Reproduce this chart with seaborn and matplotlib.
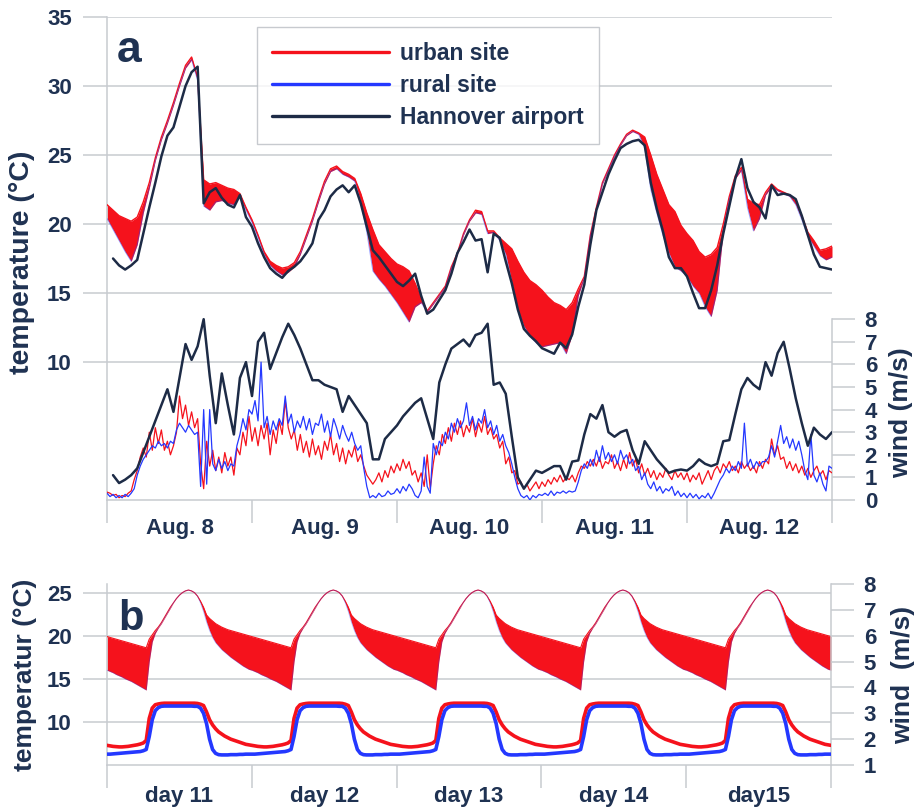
import numpy as np
import matplotlib
matplotlib.use("Agg")
import matplotlib.pyplot as plt
from matplotlib.lines import Line2D
import seaborn as sns

sns.set_theme(style="white")
plt.rcParams["font.family"] = ["Liberation Sans", "DejaVu Sans"]
plt.rcParams["font.weight"] = "bold"

# ---------------- panel a: observations, Aug. 8 - Aug. 12 (hourly / half-hourly) ----------------
day_labels_a = ["Aug. 8", "Aug. 9", "Aug. 10", "Aug. 11", "Aug. 12"]

# air temperature (degC), hourly from 00 h Aug. 8
urban_temp = [21.4, 21.0, 20.6, 20.4, 20.2, 20.5, 21.6, 23.0, 24.8, 26.3, 27.5, 28.8, 30.2, 31.5, 32.1, 30.6,
              23.2, 22.9, 23.0, 22.8, 22.6, 22.5, 22.2, 21.2, 20.3, 19.2, 18.0, 17.3, 17.0, 16.8, 16.9, 17.2,
              18.0, 19.2, 20.4, 21.8, 23.1, 24.0, 24.2, 23.8, 23.6, 23.3, 22.2, 20.8, 19.6, 18.5, 18.0, 17.5,
              17.1, 16.9, 16.6, 15.7, 14.6, 13.7, 14.3, 14.9, 15.5, 16.9, 17.9, 19.3, 20.3, 21.0, 20.9, 19.5,
              19.5, 19.0, 18.6, 18.2, 17.3, 16.5, 15.9, 15.6, 15.2, 14.7, 14.3, 14.1, 13.8, 14.3, 15.3, 16.2,
              19.2, 21.2, 23.0, 24.0, 25.0, 25.8, 26.5, 26.8, 26.6, 26.3, 25.0, 23.6, 22.5, 21.4, 20.9, 19.9,
              19.3, 18.8, 18.0, 17.6, 17.8, 18.3, 20.0, 22.0, 23.5, 24.1, 21.8, 21.5, 21.4, 22.3, 22.9, 22.5,
              22.3, 22.1, 21.6, 20.6, 19.4, 18.8, 18.1, 18.2, 18.4]
rural_temp = [20.4, 19.6, 18.8, 18.0, 17.3, 18.5, 20.8, 22.6, 24.6, 26.1, 27.3, 28.6, 30.0, 31.3, 31.9, 30.4,
              21.3, 21.0, 21.6, 21.7, 21.5, 21.4, 22.0, 21.0, 20.1, 19.0, 17.8, 17.0, 16.6, 16.3, 16.5, 16.9,
              17.8, 19.0, 20.2, 21.6, 22.9, 23.8, 24.0, 23.6, 23.4, 23.1, 21.6, 19.4, 16.6, 16.0, 15.5, 14.9,
              14.3, 13.6, 12.9, 14.0, 14.3, 13.6, 14.2, 14.8, 15.4, 16.8, 17.8, 19.2, 20.2, 20.8, 20.7, 19.3,
              19.4, 18.8, 17.8, 15.8, 13.8, 12.6, 11.9, 11.4, 11.1, 11.2, 11.3, 11.4, 10.6, 12.0, 14.8, 16.1,
              19.1, 21.1, 22.9, 23.9, 24.9, 25.7, 26.4, 26.7, 26.5, 25.5, 22.5, 20.8, 19.2, 17.9, 16.9, 16.6,
              16.2, 15.5, 15.0, 14.0, 13.3, 15.2, 19.5, 21.8, 23.3, 23.9, 21.2, 19.5, 20.4, 22.1, 22.7, 22.4,
              22.2, 22.0, 21.4, 20.3, 19.1, 18.4, 17.7, 17.4, 17.6]
# Hannover airport, hourly synop from 01 h Aug. 8
airport_temp = [17.5, 17.0, 16.7, 17.0, 17.4, 19.3, 21.2, 23.0, 24.9, 26.4, 27.0, 28.5, 30.0, 31.0, 31.4,
                21.5, 22.3, 22.6, 21.9, 21.4, 21.2, 22.1, 20.5, 19.8, 18.6, 17.6, 16.8, 16.4, 16.1, 16.6,
                16.9, 17.3, 17.9, 18.6, 20.3, 21.0, 22.0, 22.5, 22.8, 22.3, 22.8, 21.5, 19.8, 18.1, 17.6,
                17.0, 16.4, 15.8, 15.5, 15.9, 16.4, 14.8, 13.5, 13.8, 14.5, 15.2, 16.4, 17.9, 18.7, 19.6,
                18.8, 18.9, 16.5, 19.3, 19.0, 17.3, 15.7, 13.8, 12.4, 11.9, 11.5, 11.0, 10.8, 10.6, 11.4,
                11.0, 12.0, 14.0, 15.6, 18.5, 21.0, 22.3, 23.6, 24.6, 25.5, 25.8, 26.0, 26.1, 25.7, 23.0,
                21.1, 19.5, 17.6, 16.8, 16.8, 16.2, 15.0, 13.9, 13.9, 15.2, 17.0, 19.3, 21.3, 23.3, 24.7,
                22.6, 21.6, 21.2, 20.4, 22.8, 22.1, 22.2, 22.1, 21.8, 20.6, 19.2, 17.8, 16.9, 16.8, 16.7]

# wind speed (m/s), half-hourly, one list per day
urban_wind_days = [
    [0.35, 0.3, 0.2, 0.25, 0.1, 0.2, 0.15, 0.3, 0.4, 0.9, 1.3, 1.9, 2.3, 1.9, 3.0, 2.2, 3.2, 2.5, 3.1, 2.2,
     2.6, 2.0, 2.4, 3.0, 4.6, 3.6, 4.2, 3.3, 3.9, 3.2, 3.6, 1.6, 0.5, 2.6, 1.5, 2.2, 1.3, 1.9, 1.2, 2.1,
     1.5, 1.9, 1.1, 2.3, 2.0, 3.0, 2.4, 3.7],
    [2.6, 3.2, 2.4, 3.3, 2.7, 3.4, 2.0, 3.1, 2.5, 3.5, 2.9, 4.4, 3.2, 2.7, 3.1, 2.2, 2.9, 2.1, 2.6, 1.9,
     2.7, 2.0, 2.4, 1.8, 2.6, 2.2, 2.9, 2.0, 2.5, 1.7, 2.3, 1.6, 2.2, 1.9, 2.4, 1.7, 2.0, 1.5, 1.1, 0.9,
     0.7, 0.9, 1.2, 0.8, 1.3, 1.0, 1.5, 1.2],
    [1.6, 1.3, 1.8, 1.4, 1.7, 1.1, 1.3, 0.8, 1.2, 0.6, 2.0, 0.5, 1.6, 2.4, 2.0, 2.9, 2.5, 3.2, 2.6, 3.4,
     2.9, 3.5, 2.8, 3.3, 3.0, 3.6, 2.8, 3.4, 3.0, 3.7, 2.9, 3.2, 2.7, 2.9, 2.3, 2.6, 1.6, 1.9, 1.2, 1.3,
     0.7, 0.8, 0.5, 0.7, 0.4, 0.6, 0.8, 0.5],
    [0.8, 0.6, 0.9, 0.7, 1.0, 0.8, 1.1, 0.8, 1.0, 0.9, 1.1, 0.8, 1.2, 1.5, 1.4, 1.7, 1.5, 1.8, 1.5, 1.9,
     1.4, 1.7, 1.6, 2.0, 1.4, 1.7, 1.3, 1.8, 1.4, 2.1, 1.5, 1.8, 1.2, 1.6, 1.1, 1.4, 1.0, 1.3, 0.9, 1.2,
     1.0, 1.4, 1.1, 0.9, 1.3, 1.0, 1.2, 0.9],
    [1.2, 0.8, 1.1, 0.9, 1.2, 0.7, 1.0, 1.3, 0.9, 1.3, 1.5, 1.2, 1.6, 1.4, 1.7, 1.3, 1.5, 1.2, 1.7, 1.4,
     1.6, 1.3, 1.5, 1.2, 1.7, 1.4, 1.8, 1.6, 2.7, 2.0, 2.4, 1.8, 1.9, 1.4, 1.7, 1.3, 1.6, 1.2, 1.5, 1.1,
     1.4, 1.0, 1.3, 1.5, 1.1, 1.3, 0.9, 1.3, 1.2],
]
rural_wind_days = [
    [0.3, 0.15, 0.25, 0.1, 0.2, 0.1, 0.25, 0.15, 0.3, 0.5, 1.1, 1.5, 1.8, 2.0, 2.2, 2.4, 2.3, 2.6, 2.4, 2.5,
     2.3, 2.6, 2.5, 3.1, 3.4, 3.2, 3.0, 3.3, 3.1, 2.9, 3.0, 0.6, 4.0, 0.7, 4.0, 1.6, 1.3, 1.8, 1.4, 1.7,
     1.3, 1.6, 1.5, 2.4, 2.9, 3.6, 3.1, 4.0],
    [3.8, 4.4, 3.5, 6.1, 3.2, 3.7, 2.9, 3.5, 3.1, 3.6, 3.3, 4.6, 3.4, 3.8, 3.0, 3.5, 3.2, 3.7, 3.1, 3.6,
     2.9, 3.4, 3.3, 3.8, 3.0, 3.5, 2.8, 3.6, 3.2, 2.7, 3.3, 2.9, 2.6, 3.0, 2.5, 2.2, 2.4, 1.4, 0.6, 0.1,
     0.2, 0.1, 0.3, 0.15, 0.2, 0.4, 0.25, 0.3],
    [0.5, 0.3, 0.6, 0.4, 0.7, 0.5, 0.2, 0.1, 0.4, 1.9, 0.6, 0.3, 2.5, 2.0, 2.6, 2.4, 3.0, 2.7, 3.4, 3.0,
     3.6, 3.2, 3.5, 4.3, 3.3, 3.7, 3.1, 3.6, 3.4, 4.0, 3.2, 3.5, 2.9, 3.3, 2.6, 2.9, 2.4, 2.1, 1.6, 1.0,
     0.5, 0.2, 0.1, 0.2, 0.0, 0.2, 0.1, 0.25],
    [0.2, 0.3, 0.2, 0.4, 0.2, 0.35, 0.3, 0.4, 0.3, 0.4, 0.35, 0.4, 0.8, 1.3, 1.6, 1.4, 1.8, 1.5, 2.2, 1.7,
     2.4, 1.8, 2.1, 1.7, 2.0, 1.6, 2.2, 1.8, 2.0, 1.6, 1.8, 1.3, 1.5, 0.9, 1.2, 0.7, 0.5, 0.8, 0.4, 0.6,
     0.3, 0.5, 0.4, 0.6, 0.2, 0.4, 0.15, 0.3],
    [0.1, 0.3, 0.1, 0.25, 0.05, 0.2, 0.1, 0.3, 0.05, 0.3, 0.6, 0.9, 1.1, 1.4, 1.2, 1.5, 1.3, 1.7, 1.4, 3.4,
     1.5, 1.8, 1.4, 1.7, 1.5, 1.7, 1.7, 1.9, 2.4, 1.9, 2.6, 3.3, 2.5, 2.8, 2.3, 2.7, 2.2, 2.6, 2.0, 1.3,
     0.9, 2.9, 1.1, 0.8, 1.2, 0.7, 0.4, 1.5, 1.4],
]
airport_wind = [1.1, 0.75, 0.9, 1.1, 1.4, 2.1, 2.8, 3.5, 4.2, 4.9, 3.9, 5.4, 6.9, 6.2, 6.8, 8.0, 5.5, 3.4,
                5.6, 4.2, 2.9, 5.4, 6.1, 4.6, 7.0, 7.4, 5.8, 6.5, 7.2, 7.8, 7.3, 6.7, 6.0, 5.3, 5.3, 5.1,
                5.0, 4.9, 3.9, 4.6, 4.2, 3.8, 3.4, 1.8, 1.8, 2.7, 3.0, 3.3, 3.7, 4.0, 4.3, 4.5, 3.6, 2.7,
                5.2, 6.0, 6.7, 6.9, 7.1, 6.8, 7.3, 7.4, 7.8, 5.1, 5.2, 4.7, 2.8, 1.0, 0.5, 0.9, 1.3, 1.2,
                1.35, 1.5, 1.5, 0.9, 1.7, 1.75, 2.9, 3.8, 3.6, 4.2, 3.0, 2.8, 3.0, 3.1, 2.2, 1.6, 2.6,
                2.2, 1.8, 1.5, 1.2, 1.3, 1.35, 1.3, 1.5, 1.8, 1.6, 1.5, 1.6, 2.6, 2.65, 3.8, 4.9, 5.4,
                5.1, 4.9, 6.1, 5.5, 6.5, 7.0, 5.8, 4.5, 3.4, 2.4, 3.2, 2.9, 2.7, 3.0]

# ---------------- panel b: model run, days 11 - 15 (half-hourly diurnal cycle) ----------------
day_labels_b = ["day 11", "day 12", "day 13", "day 14", "day15"]
# the model is driven by the same diurnal forcing every day, so one cycle repeats
cycle_urban_temp = [19.9, 19.8, 19.7, 19.6, 19.5, 19.4, 19.3, 19.2, 19.1, 19.0, 18.9, 18.8, 18.7, 18.6,
                    19.6, 20.1, 20.6, 21.0, 21.5, 22.1, 22.7, 23.3, 23.8, 24.3, 24.7, 25.0, 25.2, 25.3,
                    25.2, 25.0, 24.6, 24.0, 23.3, 22.4, 22.0, 21.7, 21.4, 21.2, 21.0, 20.85, 20.7, 20.6,
                    20.5, 20.4, 20.3, 20.2, 20.1, 20.0]
cycle_rural_temp = [16.0, 15.85, 15.7, 15.5, 15.35, 15.2, 15.0, 14.85, 14.7, 14.5, 14.3, 14.1, 13.9, 13.7,
                    17.0, 19.3, 20.3, 20.9, 21.4, 22.0, 22.6, 23.2, 23.8, 24.3, 24.7, 25.0, 25.2, 25.3,
                    25.2, 25.0, 24.6, 23.8, 22.8, 21.6, 20.6, 19.8, 19.2, 18.8, 18.4, 18.1, 17.8, 17.5,
                    17.25, 17.0, 16.75, 16.5, 16.3, 16.1]
cycle_urban_wind = [1.76, 1.74, 1.72, 1.71, 1.70, 1.70, 1.71, 1.72, 1.74, 1.76, 1.78, 1.81, 1.85, 1.95,
                    2.8, 3.2, 3.33, 3.36, 3.38, 3.39, 3.39, 3.39, 3.39, 3.39, 3.39, 3.39, 3.39, 3.39,
                    3.39, 3.39, 3.38, 3.35, 3.3, 3.05, 2.75, 2.55, 2.4, 2.28, 2.2, 2.12, 2.06, 2.0,
                    1.96, 1.92, 1.88, 1.84, 1.8, 1.78]
cycle_rural_wind = [1.42, 1.42, 1.43, 1.44, 1.45, 1.46, 1.47, 1.48, 1.49, 1.5, 1.51, 1.52, 1.55, 1.6,
                    2.1, 2.75, 3.1, 3.22, 3.27, 3.28, 3.28, 3.28, 3.28, 3.28, 3.28, 3.28, 3.28, 3.28,
                    3.28, 3.27, 3.27, 3.2, 3.0, 2.6, 2.0, 1.6, 1.45, 1.4, 1.39, 1.39, 1.39, 1.4,
                    1.4, 1.4, 1.41, 1.41, 1.42, 1.42]
n_days_b = 5

# ---------------- styling ----------------
RED = "#f5121c"
BLUE = "#2438ff"
NAVY = "#1d2b46"
TEXT = "#1f3252"
GRID = "#c7cbd0"

W, H = 916, 809
fig = plt.figure(figsize=(W / 100, H / 100), dpi=100)
fig.patch.set_facecolor("white")


def frac_box(x0, y0, x1, y1):
    return [x0 / W, 1 - y1 / H, (x1 - x0) / W, (y1 - y0) / H]


def style_axes(ax, ax2, xlabels, ticklen_x, xpad):
    ax.set_xlim(0, 120)
    ax.set_xticks(np.arange(0, 121, 24))
    ax.set_xticklabels([])
    ax.set_xticks(np.arange(12, 120, 24), minor=True)
    ax.set_xticklabels(xlabels, minor=True)
    ax.tick_params(axis="x", which="major", bottom=True, length=ticklen_x, width=1.1, color=GRID,
                   direction="out")
    ax.tick_params(axis="x", which="minor", bottom=True, length=0, pad=xpad, labelsize=16,
                   labelcolor=TEXT)
    ax.tick_params(axis="y", left=True, length=17.3, width=1.1, color=GRID, direction="out",
                   pad=8, labelsize=16, labelcolor=TEXT)
    ax.yaxis.grid(True, color=GRID, lw=1.1)
    ax.xaxis.grid(False)
    ax.set_axisbelow(True)
    for s in ("top", "right"):
        ax.spines[s].set_visible(False)
    for s in ("left", "bottom"):
        ax.spines[s].set_color(GRID)
        ax.spines[s].set_linewidth(1.1)
    for s in ("left", "top", "bottom"):
        ax2.spines[s].set_visible(False)
    ax2.spines["right"].set_color(GRID)
    ax2.spines["right"].set_linewidth(1.1)
    ax2.tick_params(axis="y", right=True, length=16.5, width=1.1, color=GRID, direction="out",
                    pad=7, labelsize=16, labelcolor=TEXT)
    ax2.grid(False)
    ax.set_xlabel("")
    ax.set_ylabel("")
    ax2.set_ylabel("")


def line(ax, x, y, color, lw, alpha=1.0, z=3):
    sns.lineplot(x=np.asarray(x, float), y=np.asarray(y, float), ax=ax, color=color, linewidth=lw,
                 alpha=alpha, estimator=None, sort=False, legend=False, zorder=z)


# ================= panel a =================
ax = fig.add_axes(frac_box(107, 17, 832, 500))
ax2 = ax.twinx()

t_hour = np.arange(len(urban_temp), dtype=float)
t_air = np.arange(1, len(airport_temp) + 1, dtype=float)
t_air_w = np.arange(1, len(airport_wind) + 1, dtype=float)
t_wind = np.concatenate([24 * d + 0.5 * np.arange(len(v)) for d, v in enumerate(urban_wind_days)])
t_wind_r = np.concatenate([24 * d + 0.5 * np.arange(len(v)) for d, v in enumerate(rural_wind_days)])
u_wind = np.concatenate(urban_wind_days)
r_wind = np.concatenate(rural_wind_days)

ax.fill_between(t_hour, urban_temp, rural_temp, color=RED, lw=0, zorder=2)
line(ax, t_hour, urban_temp, RED, 1.0)
line(ax, t_hour, rural_temp, BLUE, 0.7, alpha=0.45)
line(ax, t_air, airport_temp, NAVY, 1.8, z=4)

ax.set_ylim(0, 35)
ax.set_yticks([10, 15, 20, 25, 30, 35])

line(ax2, t_wind, u_wind, RED, 0.9)
line(ax2, t_wind_r, r_wind, BLUE, 0.9)
line(ax2, t_air_w, airport_wind, NAVY, 1.8, z=4)
ax2.set_ylim(0, 483 / 22.6)
ax2.set_yticks(range(0, 9))
ax2.spines["right"].set_bounds(0, 8)

style_axes(ax, ax2, day_labels_a, 16.5, 13)

handles = [Line2D([], [], color=RED, lw=2.4), Line2D([], [], color=BLUE, lw=2.4),
           Line2D([], [], color=NAVY, lw=2.4)]
leg = ax.legend(handles, ["urban site", "rural site", "Hannover airport"], loc="upper left",
                bbox_to_anchor=(257 / W, 1 - 27 / H), bbox_transform=fig.transFigure,
                frameon=True, fancybox=False, edgecolor="#b9bdc3", fontsize=16.5,
                handlelength=5.1, handletextpad=0.5, borderpad=0.65, labelspacing=0.4,
                labelcolor=TEXT, borderaxespad=0)
leg.get_frame().set_linewidth(1.0)
leg.set_zorder(10)

fig.text(117 / W, 1 - 62 / H, "a", fontsize=32, fontweight="bold", color=TEXT, va="baseline")
fig.text(22 / W, 1 - 262 / H, "temperature (°C)", rotation=90, ha="center", va="center",
         fontsize=20.5, fontweight="bold", color=TEXT)
fig.text(901 / W, 1 - 413 / H, "wind (m/s)", rotation=90, ha="center", va="center",
         fontsize=19, fontweight="bold", color=TEXT)

# ================= panel b =================
bx = fig.add_axes(frac_box(107, 584, 831, 765))
bx2 = bx.twinx()

t_b = 0.5 * np.arange(len(cycle_urban_temp) * n_days_b + 1)
ub_t = np.append(np.tile(cycle_urban_temp, n_days_b), cycle_urban_temp[0])
rb_t = np.append(np.tile(cycle_rural_temp, n_days_b), cycle_rural_temp[0])
ub_w = np.append(np.tile(cycle_urban_wind, n_days_b), cycle_urban_wind[0])
rb_w = np.append(np.tile(cycle_rural_wind, n_days_b), cycle_rural_wind[0])

bx.fill_between(t_b, ub_t, rb_t, color=RED, lw=0, zorder=2)
line(bx, t_b, ub_t, RED, 0.8)
line(bx, t_b, rb_t, BLUE, 0.6, alpha=0.35)
bx.set_ylim(5, 26)
bx.set_yticks([10, 15, 20, 25])

line(bx2, t_b, ub_w, RED, 2.6)
line(bx2, t_b, rb_w, BLUE, 2.6)
bx2.set_ylim(1, 8)
bx2.set_yticks(range(1, 9))

style_axes(bx, bx2, day_labels_b, 16.5, 15)

fig.text(118 / W, 1 - 630 / H, "b", fontsize=30, fontweight="bold", color=TEXT, va="baseline")
fig.text(25 / W, 1 - 675 / H, "temperatur (°C)", rotation=90, ha="center", va="center",
         fontsize=19, fontweight="bold", color=TEXT)
fig.text(903 / W, 1 - 675 / H, "wind  (m/s)", rotation=90, ha="center", va="center",
         fontsize=19, fontweight="bold", color=TEXT)

fig.savefig("out.png", dpi=100, facecolor="white")
